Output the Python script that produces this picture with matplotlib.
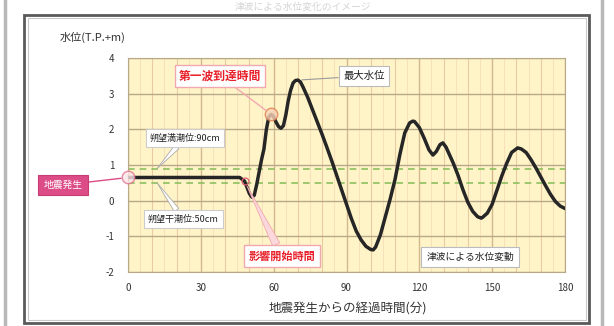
import matplotlib
matplotlib.use("Agg")
import matplotlib.pyplot as plt
from matplotlib.patches import Rectangle

plt.rcParams['font.family'] = ['Noto Sans CJK JP', 'DejaVu Sans']

# Water level (T.P. m) against minutes elapsed since the earthquake
minutes = [0, 10, 20, 30, 40, 46, 48, 50, 51, 52, 53, 54, 55, 56, 57, 58, 59,
           60, 61, 62, 63, 64, 65, 66, 67, 68, 69, 70, 71, 72, 74, 76, 78, 80,
           82, 84, 86, 88, 90, 92, 94, 96, 98, 100, 101, 102, 104, 106, 108,
           110, 112, 114, 116, 117.3, 118, 120, 122, 124, 125.6, 127, 128.5,
           129.7, 131, 132, 134, 136, 138, 140, 142, 144, 145.5, 146, 148, 150,
           152, 154, 156, 158, 160.5, 162, 164, 166, 168, 170, 172, 174, 176,
           178, 180]
level = [0.65, 0.65, 0.65, 0.65, 0.65, 0.65, 0.55, 0.2, 0.1, 0.15, 0.45, 0.8,
         1.15, 1.45, 2.0, 2.35, 2.42, 2.35, 2.2, 2.08, 2.03, 2.1, 2.4, 2.8,
         3.1, 3.3, 3.37, 3.38, 3.33, 3.2, 2.9, 2.55, 2.2, 1.85, 1.48, 1.1,
         0.7, 0.3, -0.1, -0.5, -0.85, -1.1, -1.28, -1.37, -1.38, -1.3, -0.95,
         -0.45, 0.05, 0.6, 1.3, 1.9, 2.18, 2.23, 2.22, 2.05, 1.75, 1.42, 1.28,
         1.38, 1.57, 1.62, 1.5, 1.35, 1.05, 0.7, 0.3, -0.05, -0.3, -0.45,
         -0.49, -0.47, -0.35, -0.1, 0.3, 0.7, 1.05, 1.35, 1.48, 1.45, 1.35,
         1.15, 0.92, 0.67, 0.42, 0.18, -0.02, -0.15, -0.22]

x_ticks = [0, 30, 60, 90, 120, 150, 180]
y_ticks = [-2, -1, 0, 1, 2, 3, 4]
y_tick_labels = ['-2', '-1', '0', '1', '2', '3', '4']

high_tide = 0.9   # 朔望満潮位
low_tide = 0.5    # 朔望干潮位
onset_index = 6   # 影響開始
first_wave_index = 16  # 第一波到達
peak_index = level.index(max(level))

W, H = 614, 326
fig = plt.figure(figsize=(W / 100, H / 100), dpi=100)
fig.patch.set_facecolor('white')


def fx(px):
    return px / W


def fy(py):
    return 1 - py / H


# outer frames
fig.patches.append(Rectangle((fx(5), fy(340)), fx(597), 360 / H, transform=fig.transFigure,
                             fill=False, ec='#B8B8B8', lw=2.5))
fig.patches.append(Rectangle((fx(24), fy(323)), fx(565), 308 / H, transform=fig.transFigure,
                             fill=False, ec='#5A5A5A', lw=2.0))
fig.patches.append(Rectangle((fx(27.5), fy(320)), fx(558), 302 / H, transform=fig.transFigure,
                             fill=False, ec='#C8C8C8', lw=0.8))

fig.text(fx(303), fy(7), '津波による水位変化のイメージ', ha='center', va='center',
         fontsize=7, color='#D4D4D4')

ax = fig.add_axes([fx(128), fy(272), (565 - 128) / W, (272 - 58) / H])
ax.set_facecolor('#FFF4C8')
ax.set_xlim(0, 180)
ax.set_ylim(-2, 4)

# grid
for m in range(0, 181, 5):
    if m % 30 == 0:
        c, lw = '#D2B88E', 1.0
    elif m % 10 == 0:
        c, lw = '#E8CBA0', 0.8
    else:
        c, lw = '#F6DDB8', 0.6
    ax.axvline(m, color=c, lw=lw, zorder=1)
for v in y_ticks:
    ax.axhline(v, color='#B8A88A', lw=1.0, zorder=1)

ax.axhline(high_tide, color='#8CC060', lw=1.2, ls=(0, (4, 3)), zorder=2)
ax.axhline(low_tide, color='#8CC060', lw=1.2, ls=(0, (4, 3)), zorder=2)

ax.plot(minutes, level, color='#262626', lw=2.5, solid_joinstyle='round',
        solid_capstyle='round', zorder=4)

for s in ax.spines.values():
    s.set_color('#B8A88A')
    s.set_linewidth(0.8)

ax.set_xticks(x_ticks)
ax.set_yticks(y_ticks)
ax.set_yticklabels(y_tick_labels)
ax.tick_params(length=0, labelsize=7, colors='#333333', pad=8)
ax.tick_params(axis='y', pad=10)

fig.text(fx(60), fy(37), '水位(T.P.+m)', ha='left', va='center', fontsize=8,
         color='#333333')
fig.text(fx(348), fy(309), '地震発生からの経過時間(分)', ha='center', va='center',
         fontsize=9, color='#333333')

# markers
ax.plot(minutes[0], level[0], 'o', ms=9, mfc='#FCE4E8', mec='#E07090', mew=1.0,
        alpha=0.8, clip_on=False, zorder=5)
ax.plot(minutes[first_wave_index], level[first_wave_index], 'o', ms=9,
        mfc='#F8D2B8', mec='#E08050', mew=1.0, alpha=0.8, zorder=5)
ax.plot(minutes[onset_index], level[onset_index], 'o', ms=5, mfc='none',
        mec='#E06070', mew=0.9, zorder=5)

# callouts
ax.annotate('第一波到達時間', xy=(minutes[first_wave_index], level[first_wave_index]),
            xytext=(fx(220), fy(76)), textcoords='figure fraction',
            ha='center', va='center', fontsize=8.5, color='#E8202A', fontweight='bold',
            bbox=dict(boxstyle='square,pad=0.35', fc='white', ec='#F2A8B0', lw=1.0),
            arrowprops=dict(arrowstyle='-', color='#F2A8B0', lw=1.0, shrinkA=0, shrinkB=5),
            zorder=6)
ax.annotate('最大水位', xy=(minutes[peak_index], level[peak_index]),
            xytext=(fx(364), fy(76)), textcoords='figure fraction',
            ha='center', va='center', fontsize=7.5, color='#222222',
            bbox=dict(boxstyle='square,pad=0.45', fc='white', ec='#BBBBBB', lw=0.8),
            arrowprops=dict(arrowstyle='-', color='#999999', lw=0.8, shrinkA=0, shrinkB=3),
            zorder=6)
ax.annotate(f'朔望満潮位:{high_tide * 100:.0f}cm', xy=(12, high_tide),
            xytext=(fx(185), fy(138)), textcoords='figure fraction',
            ha='center', va='center', fontsize=6.5, color='#222222',
            bbox=dict(boxstyle='square,pad=0.45', fc='white', ec='#CCCCCC', lw=0.8),
            arrowprops=dict(arrowstyle='wedge,tail_width=0.6,shrink_factor=0.5',
                            fc='white', ec='#AAAAAA', lw=0.6, shrinkA=0, shrinkB=0),
            zorder=6)
ax.annotate(f'朔望干潮位:{low_tide * 100:.0f}cm', xy=(12, low_tide),
            xytext=(fx(183), fy(219)), textcoords='figure fraction',
            ha='center', va='center', fontsize=6.5, color='#222222',
            bbox=dict(boxstyle='square,pad=0.45', fc='white', ec='#CCCCCC', lw=0.8),
            arrowprops=dict(arrowstyle='wedge,tail_width=0.6,shrink_factor=0.5',
                            fc='white', ec='#AAAAAA', lw=0.6, shrinkA=0, shrinkB=0),
            zorder=6)
ax.annotate('影響開始時間', xy=(minutes[onset_index], level[onset_index]),
            xytext=(fx(282), fy(256)), textcoords='figure fraction',
            ha='center', va='center', fontsize=8, color='#E8202A', fontweight='bold',
            bbox=dict(boxstyle='square,pad=0.4', fc='white', ec='#F2A8B0', lw=1.0),
            arrowprops=dict(arrowstyle='wedge,tail_width=0.7,shrink_factor=0.5',
                            fc='#FBD8DC', ec='#F2A8B0', lw=0.6, shrinkA=0, shrinkB=4),
            zorder=6)
ax.annotate('地震発生', xy=(minutes[0], level[0]),
            xytext=(fx(63), fy(185)), textcoords='figure fraction',
            ha='center', va='center', fontsize=7, color='white',
            bbox=dict(boxstyle='square,pad=0.55', fc='#DC4C86', ec='#C83C74', lw=0.8),
            arrowprops=dict(arrowstyle='-', color='#DC4C86', lw=1.0, shrinkA=0, shrinkB=5),
            annotation_clip=False, zorder=6)
fig.text(fx(470), fy(257), '津波による水位変動', ha='center', va='center',
         fontsize=7, color='#222222',
         bbox=dict(boxstyle='square,pad=0.5', fc='white', ec='#BBBBBB', lw=0.8))

fig.savefig('out.png', dpi=100)
